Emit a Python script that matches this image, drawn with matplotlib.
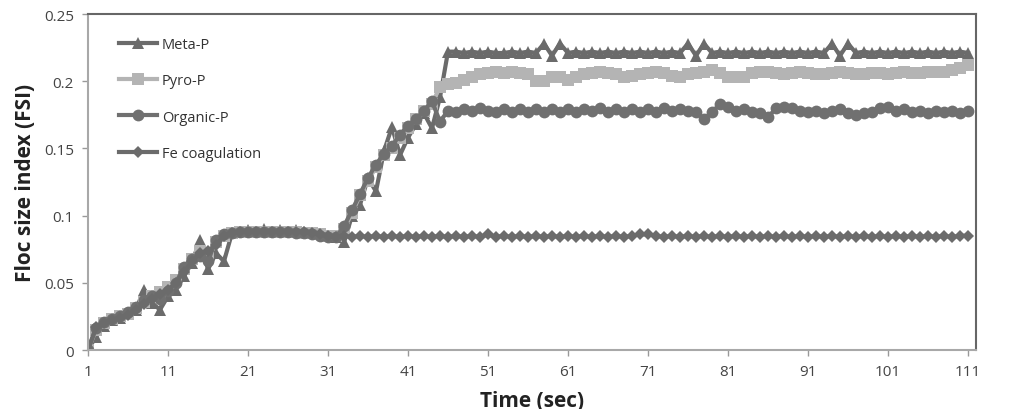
import numpy as np
import matplotlib.pyplot as plt

# time axis (sec)
time = list(range(1, 112))

meta_p = [0, 0.010, 0.018, 0.022, 0.024, 0.027, 0.030, 0.045, 0.035, 0.030,
          0.040, 0.045, 0.055, 0.065, 0.082, 0.060, 0.072, 0.066, 0.087, 0.088,
          0.089, 0.088, 0.090, 0.088, 0.089, 0.088, 0.089, 0.088, 0.087, 0.086,
          0.085, 0.084,
          0.080, 0.100, 0.108, 0.128, 0.118, 0.148, 0.166, 0.145, 0.158, 0.168,
          0.176, 0.165, 0.188, 0.222,
          0.222, 0.221, 0.222, 0.221, 0.222, 0.221, 0.221, 0.222, 0.221, 0.222, 0.221,
          0.228, 0.219, 0.228,
          0.221, 0.222, 0.221, 0.222, 0.221, 0.222, 0.221, 0.222, 0.221, 0.222,
          0.221, 0.222, 0.221, 0.222, 0.221,
          0.228, 0.219, 0.228,
          0.221, 0.222, 0.221, 0.222, 0.221, 0.222, 0.221, 0.222, 0.221, 0.222,
          0.221, 0.222, 0.221, 0.222, 0.221,
          0.228, 0.219, 0.228,
          0.221, 0.222, 0.221, 0.222, 0.221, 0.222, 0.221, 0.222, 0.221, 0.222,
          0.221, 0.222, 0.221, 0.222, 0.221]

pyro_p = [0, 0.015, 0.020, 0.023, 0.025, 0.027, 0.031, 0.036, 0.040, 0.043,
          0.047, 0.052, 0.060, 0.068, 0.074, 0.070, 0.080, 0.085, 0.087, 0.088,
          0.088, 0.088, 0.088, 0.088, 0.088, 0.088, 0.088, 0.087, 0.087, 0.086,
          0.085, 0.085,
          0.090, 0.102, 0.115, 0.126, 0.136, 0.145, 0.150, 0.158, 0.165, 0.172,
          0.178, 0.183, 0.196, 0.198,
          0.199, 0.201, 0.203, 0.205, 0.206, 0.207, 0.206, 0.207, 0.206, 0.205,
          0.200, 0.200, 0.203, 0.203, 0.201, 0.203, 0.205, 0.206, 0.207, 0.206,
          0.205, 0.203, 0.204, 0.205, 0.206, 0.207, 0.206, 0.204, 0.203, 0.205,
          0.206, 0.207, 0.208, 0.206, 0.203, 0.203, 0.203, 0.206, 0.207, 0.207,
          0.206, 0.205, 0.206, 0.207, 0.206, 0.205, 0.205, 0.206, 0.207, 0.206,
          0.205, 0.205, 0.206, 0.206, 0.205, 0.206, 0.207, 0.206, 0.206, 0.207,
          0.207, 0.207, 0.208, 0.210, 0.212]

organic_p = [0, 0.016, 0.021, 0.023, 0.025, 0.028, 0.032, 0.037, 0.040, 0.038,
             0.044, 0.050, 0.062, 0.068, 0.070, 0.066, 0.082, 0.086, 0.087, 0.088,
             0.088, 0.088, 0.088, 0.088, 0.088, 0.088, 0.087, 0.087, 0.086, 0.085,
             0.084, 0.084,
             0.092, 0.104, 0.116, 0.128, 0.138, 0.146, 0.152, 0.160, 0.167, 0.172,
             0.178, 0.185, 0.170, 0.178,
             0.177, 0.179, 0.178, 0.180, 0.178, 0.177, 0.179, 0.177, 0.179, 0.177,
             0.179, 0.177, 0.179, 0.177, 0.179, 0.177, 0.179, 0.178, 0.180, 0.177,
             0.179, 0.177, 0.179, 0.177, 0.179, 0.177, 0.180, 0.178, 0.179, 0.178,
             0.177, 0.172, 0.177, 0.183, 0.181, 0.178, 0.179, 0.177, 0.176, 0.173,
             0.180, 0.181, 0.180, 0.178, 0.177, 0.178, 0.176, 0.178, 0.179, 0.176,
             0.175, 0.176, 0.177, 0.180, 0.181, 0.178, 0.179, 0.177, 0.178, 0.176,
             0.178, 0.177, 0.178, 0.176, 0.178]

fe_coag = [0, 0.017, 0.020, 0.022, 0.024, 0.026, 0.030, 0.034, 0.038, 0.042,
           0.045, 0.050, 0.058, 0.066, 0.072, 0.074, 0.078, 0.085, 0.087, 0.088,
           0.088, 0.088, 0.088, 0.088, 0.088, 0.088, 0.088, 0.088, 0.087, 0.086,
           0.085, 0.084,
           0.085, 0.084, 0.085, 0.084, 0.085, 0.084, 0.085, 0.084, 0.085, 0.084,
           0.085, 0.084, 0.085, 0.084, 0.085, 0.084, 0.085, 0.084, 0.086, 0.084,
           0.085, 0.084, 0.085, 0.084, 0.085, 0.084, 0.085, 0.084, 0.085, 0.084,
           0.085, 0.084, 0.085, 0.084, 0.085, 0.084, 0.085, 0.086, 0.086, 0.085,
           0.084, 0.085, 0.084, 0.085, 0.084, 0.085, 0.084, 0.085, 0.084, 0.085,
           0.084, 0.085, 0.084, 0.085, 0.084, 0.085, 0.084, 0.085, 0.084, 0.085,
           0.084, 0.085, 0.084, 0.085, 0.084, 0.085, 0.084, 0.085, 0.084, 0.085,
           0.084, 0.085, 0.084, 0.085, 0.084, 0.085, 0.084, 0.085, 0.085]

series = ["Meta-P", "Pyro-P", "Organic-P", "Fe coagulation"]
xticks = list(range(1, 112, 10))
yticks = [0, 0.05, 0.1, 0.15, 0.2, 0.25]
ytick_labels = ["0", "0.05", "0.1", "0.15", "0.2", "0.25"]


def main():
    plt.rcParams['font.family'] = ['Open Sans', 'DejaVu Sans']

    fig = plt.figure(figsize=(10.16, 4.10), dpi=100)
    ax = fig.add_axes([0.0866, 0.1439, 0.874, 0.8195])

    # one style per series, Excel-like grey markers
    styles = [
        dict(color="#6b6b6b", marker="^", markersize=9),
        dict(color="#b4b4b4", marker="s", markersize=8.5),
        dict(color="#707070", marker="o", markersize=8.5),
        dict(color="#6b6b6b", marker="D", markersize=6.5),
    ]
    for name, vals, st in zip(series, [meta_p, pyro_p, organic_p, fe_coag], styles):
        ax.plot(time, vals, label=name, linewidth=3, markeredgewidth=0, **st)

    ax.set_xlim(1, 112)
    ax.set_ylim(0, 0.25)
    ax.set_xticks(xticks)
    ax.set_yticks(yticks)
    ax.set_yticklabels(ytick_labels)
    ax.tick_params(axis="both", labelsize=11, colors="#444444", length=4,
                   width=1, pad=6)
    ax.tick_params(axis="x", color="#999999")
    ax.tick_params(axis="y", color="#999999")

    for side in ["left", "bottom"]:
        ax.spines[side].set_color("#a8a8a8")
        ax.spines[side].set_linewidth(1.5)
    for side in ["top", "right"]:
        ax.spines[side].set_color("#666666")
        ax.spines[side].set_linewidth(1.5)

    ax.set_xlabel("Time (sec)", fontsize=15, fontweight="bold", color="#222222",
                  labelpad=8)
    ax.set_ylabel("Floc size index (FSI)", fontsize=15, fontweight="bold",
                  color="#222222", labelpad=6)

    leg = ax.legend(loc="upper left", frameon=False, fontsize=10.5,
                    handlelength=2.6, handletextpad=0.35, labelspacing=1.45,
                    bbox_to_anchor=(0.02, 0.97))
    for t in leg.get_texts():
        t.set_color("#333333")

    fig.savefig("out.png", dpi=100)


if __name__ == '__main__':
    main()
